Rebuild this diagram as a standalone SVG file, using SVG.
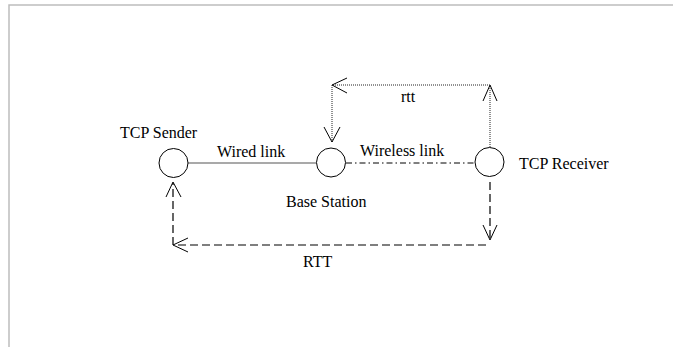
<svg xmlns="http://www.w3.org/2000/svg" width="673" height="347" viewBox="0 0 673 347">
  <style>
    .node { fill: #fff; stroke: #000; stroke-width: 1; }
    .wired { stroke: #555; stroke-width: 1.2; fill: none; }
    .wireless { stroke: #000; stroke-width: 1; fill: none; stroke-dasharray: 6 3 1.5 3; }
    .dotted { stroke: #222; stroke-width: 1; fill: none; stroke-dasharray: 1 1; }
    .dashed { stroke: #000; stroke-width: 1.2; fill: none; stroke-dasharray: 8 4; }
    .head { stroke: #000; stroke-width: 1; fill: none; }
  </style>

  <!-- frame -->
  <path d="M9,347 V5 H673" fill="none" stroke="#bdbdbd" stroke-width="1.5"/>

  <g id="connectors">
    <!-- links between the stations -->
    <line class="wired" x1="188" y1="163" x2="316" y2="163"/>
    <line class="wireless" x1="346" y1="163" x2="475" y2="163"/>

    <!-- rtt loop: receiver -> base station -->
    <line class="dotted" x1="490" y1="147" x2="490" y2="85"/>
    <polyline class="head" points="483,101 490,85 497,101"/>
    <line class="dotted" x1="490" y1="85" x2="332" y2="85"/>
    <polyline class="head" points="347,78 332,85 347,93"/>
    <line class="dotted" x1="332" y1="85" x2="332" y2="142"/>
    <polyline class="head" points="324,127 332,142 340,127"/>

    <!-- RTT loop: receiver -> sender -->
    <line class="dashed" x1="490" y1="182" x2="490" y2="240"/>
    <polyline class="head" points="483,225 490,240 497,225"/>
    <line class="dashed" x1="486" y1="245" x2="174" y2="245"/>
    <polyline class="head" points="188,238 173,245 188,252"/>
    <line class="dashed" x1="173" y1="245" x2="173" y2="183"/>
    <polyline class="head" points="166,197 173,182 181,197"/>
  </g>

  <g font-family="'Liberation Serif', 'Times New Roman', 'DejaVu Serif', serif" font-size="16" fill="#000">
    <g id="tcp-sender">
      <circle class="node" cx="173.5" cy="163" r="14.5"/>
      <text x="120" y="138">TCP Sender</text>
    </g>

    <g id="base-station">
      <circle class="node" cx="331" cy="162.5" r="14.5"/>
      <text x="286" y="207">Base Station</text>
    </g>

    <g id="tcp-receiver">
      <circle class="node" cx="489.5" cy="162" r="14.5"/>
      <text x="519" y="169">TCP Receiver</text>
    </g>

    <g id="labels">
      <text x="217" y="157">Wired link</text>
      <text x="360" y="156">Wireless link</text>
      <text x="401" y="102">rtt</text>
      <text x="303" y="267">RTT</text>
    </g>
  </g>
</svg>
